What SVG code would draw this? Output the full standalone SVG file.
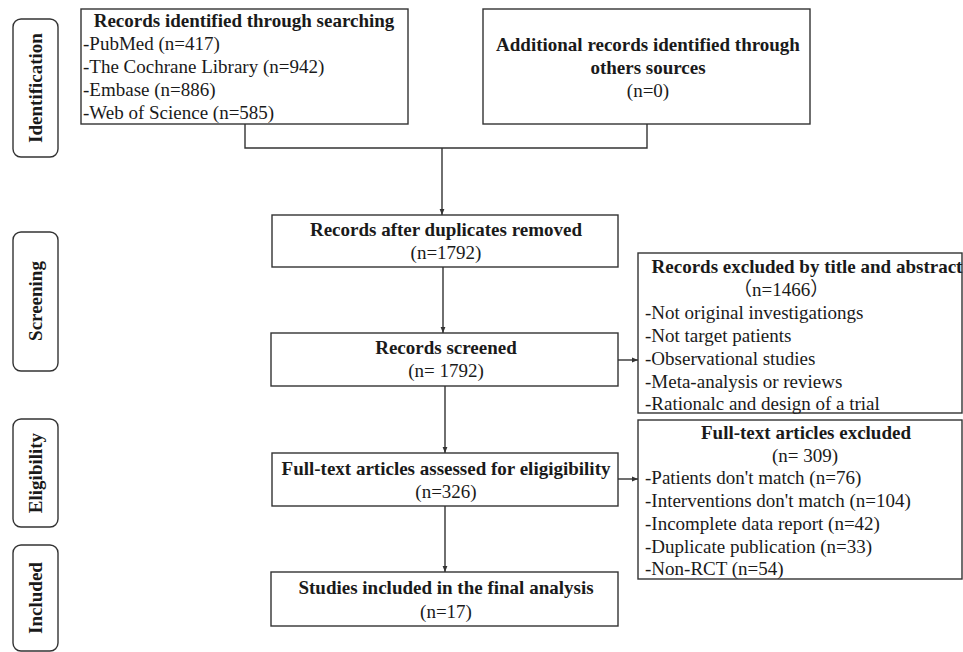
<svg xmlns="http://www.w3.org/2000/svg" width="963" height="652" viewBox="0 0 963 652">
<defs>
<style>
text{font-family:"Liberation Serif","Noto Sans CJK SC",serif;font-size:19px;fill:#1a1a1a}
.b{font-weight:bold}
.c{text-anchor:middle}
.box{fill:#fff;stroke:#333;stroke-width:1.4}
.lab{fill:#fff;stroke:#333;stroke-width:1.4}
.con{fill:none;stroke:#333;stroke-width:1.4}
</style>
<marker id="ah" viewBox="0 0 10 10" refX="10" refY="5" markerWidth="6" markerHeight="6" markerUnits="userSpaceOnUse" orient="auto">
<path d="M0,1 L10,5 L0,9 Z" fill="#333"/>
</marker>
</defs>
<rect width="963" height="652" fill="#fff"/>

<g id="label-identification">
<rect class="lab" x="13" y="19" width="45" height="138" rx="8"/>
<text class="b c" transform="translate(42,88) rotate(-90)">Identification</text>
</g>
<g id="label-screening">
<rect class="lab" x="13" y="232" width="45" height="139" rx="8"/>
<text class="b c" transform="translate(42,301) rotate(-90)">Screening</text>
</g>
<g id="label-eligibility">
<rect class="lab" x="13" y="419" width="45" height="108" rx="8"/>
<text class="b c" transform="translate(42,473) rotate(-90)">Eligibility</text>
</g>
<g id="label-included">
<rect class="lab" x="13" y="545" width="45" height="106" rx="8"/>
<text class="b c" transform="translate(42,598) rotate(-90)">Included</text>
</g>

<g id="connectors">
<path class="con" d="M245,124 V148 H647 V124"/>
<path class="con" d="M442,148 V215" marker-end="url(#ah)"/>
<path class="con" d="M443,267 V333" marker-end="url(#ah)"/>
<path class="con" d="M445,386 V453" marker-end="url(#ah)"/>
<path class="con" d="M445,506 V572" marker-end="url(#ah)"/>
<path class="con" d="M618,360 H638" marker-end="url(#ah)"/>
<path class="con" d="M618,479 H638" marker-end="url(#ah)"/>
</g>

<g id="n-search">
<rect class="box" x="81" y="9" width="327" height="115"/>
<text class="b c" x="244" y="27">Records identified through searching</text>
<text x="83" y="50">-PubMed (n=417)</text>
<text x="83" y="73">-The Cochrane Library (n=942)</text>
<text x="83" y="96">-Embase (n=886)</text>
<text x="83" y="119">-Web of Science (n=585)</text>
</g>

<g id="n-additional">
<rect class="box" x="483" y="9" width="327" height="115"/>
<text class="b c" x="648" y="51">Additional records identified through</text>
<text class="b c" x="648" y="74">others sources</text>
<text class="c" x="648" y="97">(n=0)</text>
</g>

<g id="n-dup">
<rect class="box" x="272" y="215" width="346" height="52"/>
<text class="b c" x="446" y="236">Records after duplicates removed</text>
<text class="c" x="446" y="259">(n=1792)</text>
</g>

<g id="n-screened">
<rect class="box" x="271" y="333" width="347" height="53"/>
<text class="b c" x="446" y="354">Records screened</text>
<text class="c" x="446" y="377">(n= 1792)</text>
</g>

<g id="n-fulltext">
<rect class="box" x="272" y="453" width="346" height="53"/>
<text class="b c" x="446" y="475">Full-text articles assessed for eligigibility</text>
<text class="c" x="446" y="498">(n=326)</text>
</g>

<g id="n-included">
<rect class="box" x="271" y="572" width="347" height="54"/>
<text class="b c" x="446" y="594">Studies included in the final analysis</text>
<text class="c" x="446" y="618">(n=17)</text>
</g>

<g id="n-excl1">
<rect class="box" x="638" y="253" width="324" height="160"/>
<text class="b c" x="807" y="273">Records excluded by title and abstract</text>
<text x="733" y="296">（n=1466）</text>
<text x="645" y="319">-Not original investigationgs</text>
<text x="645" y="342">-Not target patients</text>
<text x="645" y="365">-Observational studies</text>
<text x="645" y="388">-Meta-analysis or reviews</text>
<text x="645" y="410">-Rationalc and design of a trial</text>
</g>

<g id="n-excl2">
<rect class="box" x="638" y="420" width="324" height="159"/>
<text class="b c" x="806" y="439">Full-text articles excluded</text>
<text class="c" x="805" y="462">(n= 309)</text>
<text x="645" y="484">-Patients don't match (n=76)</text>
<text x="645" y="507">-Interventions don't match (n=104)</text>
<text x="645" y="530">-Incomplete data report (n=42)</text>
<text x="645" y="553">-Duplicate publication (n=33)</text>
<text x="645" y="575">-Non-RCT (n=54)</text>
</g>
</svg>
